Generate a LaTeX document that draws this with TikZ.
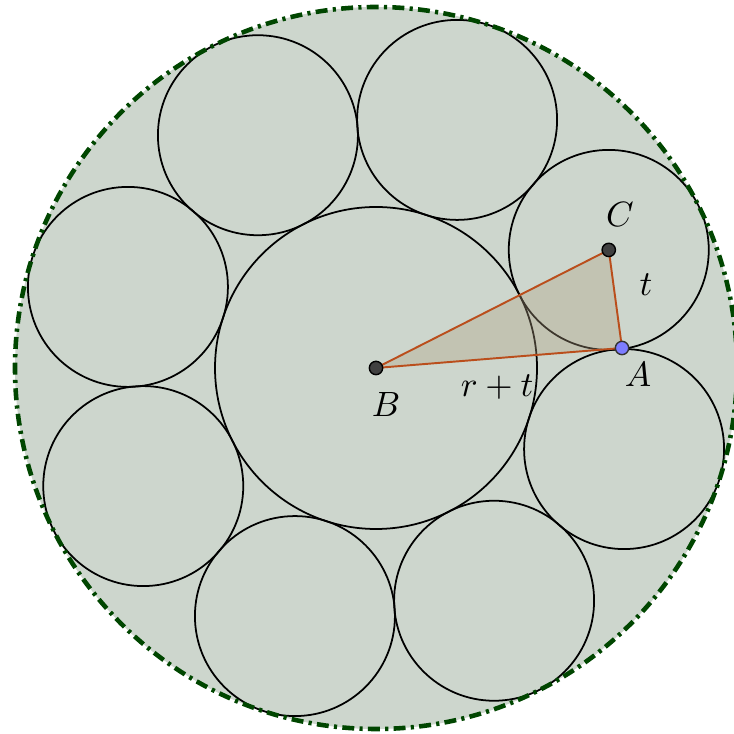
\documentclass[tikz,border=0pt]{standalone}
\usepackage{tikz}
\usetikzlibrary{calc}

\definecolor{discfill}{RGB}{205,214,205}
\definecolor{rimgreen}{RGB}{0,70,0}
\definecolor{triedge}{RGB}{186,78,28}
\definecolor{trifill}{RGB}{176,160,130}
\definecolor{pointA}{RGB}{125,125,255}

\tikzset{
    rim/.style={draw=rimgreen,line width=1.3pt,
        dash pattern=on 3.4pt off 1.5pt on 0.9pt off 1.5pt},
    ringcircle/.style={draw=black,line width=0.5pt},
    triside/.style={draw=triedge,line width=0.55pt},
    dotdark/.style={fill=black!75,draw=black,line width=0.4pt},
    dotblue/.style={fill=pointA,draw=black!80,line width=0.4pt}
}

\begin{document}
\begin{tikzpicture}

    \useasboundingbox (0,0) rectangle (7.34,7.34);
    \clip (0,0) rectangle (7.34,7.34);

    % radii: inner circle r, small circles t
    \pgfmathsetmacro{\r}{1.61}
    \pgfmathsetmacro{\t}{1.0}
    \pgfmathsetmacro{\rt}{\r+\t}
    \pgfmathsetmacro{\R}{\r+2*\t}

    % centre of the inner circle
    \coordinate (B) at (3.76,3.66);

    % outer disc
    \fill[discfill] (B) circle (\R);

    % inner circle
    \draw[ringcircle] (B) circle (\r);

    % ring of eight small circles
    \foreach \k in {0,...,7} {
        \pgfmathsetmacro{\ang}{26.9+45*\k}
        \coordinate (S\k) at ($(B)+(\ang:\rt)$);
        \draw[ringcircle] (S\k) circle (\t);
    }

    % rim of the outer disc
    \draw[rim] (B) circle (\R);

    % points of the triangle
    \coordinate (C) at (S0);
    \coordinate (A) at (6.22,3.86);

    % triangle
    \fill[trifill,opacity=0.35] (B) -- (A) -- (C) -- cycle;
    \draw[triside] (B) -- (A) -- (C) -- cycle;

    \filldraw[dotdark] (B) circle (1.9pt);
    \filldraw[dotdark] (C) circle (1.9pt);
    \filldraw[dotblue] (A) circle (1.9pt);

    % labels
    \node (labB) at (3.86,3.29) {$B$};
    \node (labC) at (6.20,5.19) {$C$};
    \node (labA) at (6.38,3.59) {$A$};
    \node (labt) at (6.46,4.49) {$t$};
    \node (labrt) at (4.97,3.47) {$r+t$};

\end{tikzpicture}
\end{document}
